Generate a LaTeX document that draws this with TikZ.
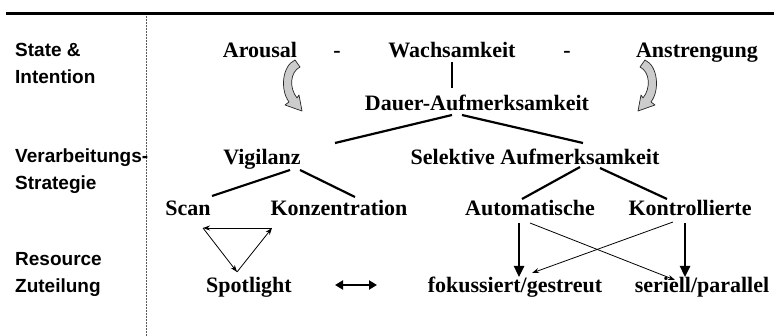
\documentclass[tikz,border=0pt]{standalone}
\usepackage{fontspec}
\setmainfont{Liberation Serif}
\newfontfamily\labfont{Liberation Sans}
\usetikzlibrary{arrows.meta,calc}
\begin{document}
\begin{tikzpicture}[x=1pt,y=-1pt,
  word/.style={font=\fontsize{22}{24}\selectfont\bfseries, inner sep=0pt, text height=14.6pt, text depth=0pt},
  lbl/.style={font=\labfont\fontsize{19}{24}\selectfont\bfseries, anchor=base west, inner sep=0pt},
  tree/.style={line width=2.2pt},
  thinarr/.style={line width=0.8pt, -{Stealth[length=7pt,width=5pt]}},
  heavyarr/.style={line width=2.4pt, -{Triangle[length=11pt,width=10pt]}},
  bendarrow/.style={fill=gray!40, draw=black!85, line width=0.7pt, line join=round},
]
\useasboundingbox (0,0) rectangle (774,336);
\fill[white] (0,0) rectangle (774,336);

% frame lines
\draw[line width=3pt] (6,14) -- (774,14);
\draw[gray!70!black, line width=0.7pt, dash pattern=on 2pt off 1pt] (146,16) -- (146,336);

% left labels
\node[lbl] (l1a) at (15,57) {State \&};
\node[lbl] (l1b) at (15,84) {Intention};
\node[lbl] (l2a) at (15,163) {Verarbeitungs-};
\node[lbl] (l2b) at (15,190) {Strategie};
\node[lbl] (l3a) at (15,266) {Resource};
\node[lbl] (l3b) at (15,293) {Zuteilung};

% words
\node[word] (arousal) at (260,50) {Arousal};
\node[word] (d1) at (337,50) {-};
\node[word] (wach) at (452,50) {Wachsamkeit};
\node[word] (d2) at (567,50) {-};
\node[word] (anst) at (697,50) {Anstrengung};
\node[word] (dauer) at (477,103) {Dauer-Aufmerksamkeit};
\node[word] (vig) at (262,157) {Vigilanz};
\node[word] (sel) at (535,157) {Selektive Aufmerksamkeit};
\node[word] (scan) at (188,208) {Scan};
\node[word] (konz) at (339,208) {Konzentration};
\node[word] (auto) at (530,208) {Automatische};
\node[word] (kontr) at (690,208) {Kontrollierte};
\node[word] (spot) at (249,285) {Spotlight};
\node[word] (foku) at (515,285) {fokussiert/gestreut};
\node[word] (seri) at (702,285) {seriell/parallel};

% tree lines
\draw[tree] ($(wach)+(0,12)$) -- ($(dauer)+(-25,-15)$);
\draw[tree] ($(dauer)+(-25,12)$) -- ($(vig)+(73,-14)$);
\draw[tree] ($(dauer)+(-15,12)$) -- ($(sel)+(48,-14)$);
\draw[tree] ($(vig)+(28,13)$) -- ($(scan)+(24,-12)$);
\draw[tree] ($(vig)+(38,13)$) -- ($(konz)+(16,-11)$);
\draw[tree] ($(sel)+(45,10)$) -- ($(auto)+(-8,-9)$);
\draw[tree] ($(sel)+(65,11)$) -- ($(kontr)+(-23,-9)$);

% triangle
\coordinate (tl) at ($(scan)+(15,20)$);
\coordinate (tr) at ($(scan)+(84,20)$);
\coordinate (bt) at ($(spot)+(-12,-13)$);
\draw[thinarr] (tr) -- (tl);
\draw[thinarr] (tl) -- (bt);
\draw[thinarr] (bt) -- (tr);

% double arrow
\draw[line width=2.6pt, {Triangle[length=8pt,width=9pt]}-{Triangle[length=8pt,width=9pt]}]
  ($(spot)+(86,0)$) -- ($(foku)+(-138,0)$);

% resource arrows
\draw[heavyarr] ($(auto)+(-11,15)$) -- ($(foku)+(4,-8)$);
\draw[heavyarr] ($(kontr)+(-5,15)$) -- ($(seri)+(-17,-8)$);
\draw[thinarr] ($(auto)+(0,15)$) -- ($(seri)+(-27,-5)$);
\draw[thinarr] ($(kontr)+(-17,14)$) -- ($(foku)+(17,-12)$);

% curved block arrows
\path[bendarrow] (295,60) .. controls (282,66) and (280,90) .. (289,102)
  -- (285,105) -- (302,111) -- (299,95) -- (297,98)
  .. controls (289,88) and (290,72) .. (300,67) -- cycle;
\begin{scope}[xshift=940pt, xscale=-1]
\path[bendarrow] (295,60) .. controls (282,66) and (280,90) .. (289,102)
  -- (285,105) -- (302,111) -- (299,95) -- (297,98)
  .. controls (289,88) and (290,72) .. (300,67) -- cycle;
\end{scope}
\end{tikzpicture}
\end{document}
